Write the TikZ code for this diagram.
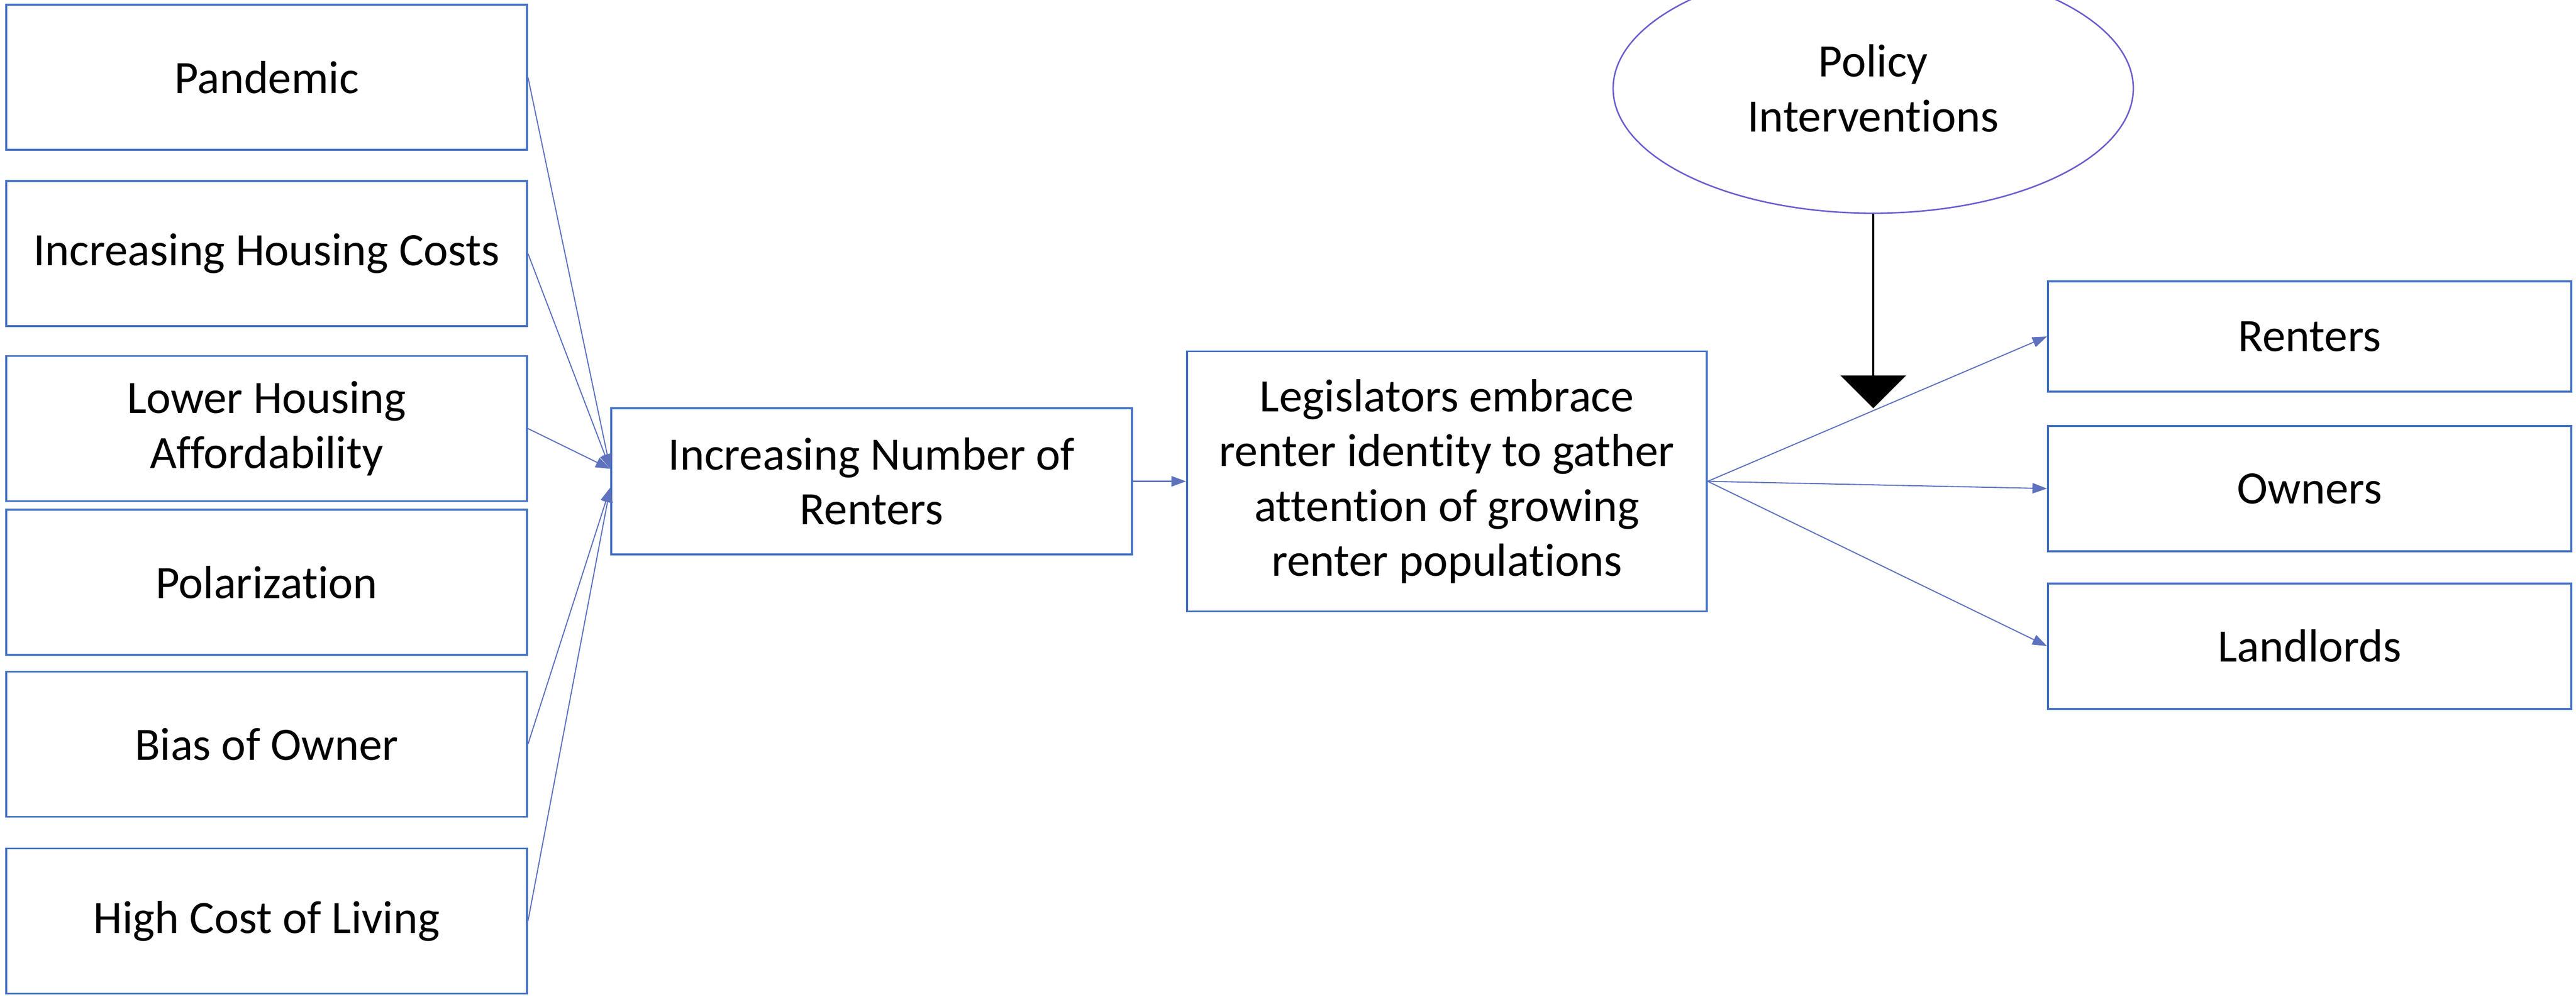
\documentclass[tikz,border=0pt]{standalone}
\usepackage{fontspec}
\setmainfont{Carlito}[Ligatures=NoCommon]
\usetikzlibrary{%
    arrows.meta,
    positioning,
    shapes.geometric
}
\definecolor{boxblue}{HTML}{4472C4}
\definecolor{linkblue}{HTML}{5E72BE}
\definecolor{ovalblue}{HTML}{6A5FCF}
\tikzset{factor/.style = {draw=boxblue, line width=1.1pt, align=center,
    minimum width=10.01cm, minimum height=2.79cm, inner sep=0pt,
    font=\fontsize{25.4}{30}\selectfont}}
\tikzset{linkarrow/.style = {-{Triangle[length=.28cm,width=.2cm]}, draw=linkblue, line width=.6pt}}
\tikzset{pusharrow/.style = {-{Triangle[length=.63cm,width=1.25cm]}, line width=1.4pt}}

\begin{document}
\begin{tikzpicture}
    \useasboundingbox (0,0) rectangle (49.52,-19.17);

    % causes on the left
    \foreach \n/\y/\Label in {%
        pandemic/-1.485/Pandemic,
        costs/-4.875/Increasing Housing Costs,
        afford/-8.24/Lower Housing\\Affordability,
        polar/-11.195/Polarization,
        bias/-14.31/Bias of Owner,
        living/-17.71/High Cost of Living%
        }
        \node[factor] (\n) at (5.125,\y) {\Label};

    \node[factor, minimum height=2.81cm] (rentgrowth) at (16.755,-9.255) {Increasing Number of\\Renters};
    \node[factor, minimum width=9.99cm, minimum height=5cm] (legis) [right=1.02cm of rentgrowth]
        {Legislators embrace\\renter identity to gather\\attention of growing\\renter populations};

    % groups on the right
    \node[factor, minimum width=10.06cm, minimum height=2.12cm] (renters) at (44.40,-6.47) {Renters};
    \node[factor, minimum width=10.06cm, minimum height=2.41cm] (owners) [below=.62cm of renters] {Owners};
    \node[factor, minimum width=10.06cm, minimum height=2.41cm] (landlords) [below=.58cm of owners] {Landlords};

    \node[ellipse, draw=ovalblue, line width=.8pt, minimum width=10cm, minimum height=4.8cm,
        align=center, font=\fontsize{25.4}{30}\selectfont] (policy) at (36.01,-1.70) {Policy\\Interventions};
    \coordinate (hit) at (36.01,-7.85);

    \foreach \x in {pandemic,costs,afford}
        \draw[linkarrow] (\x.east) to ([yshift=.24cm]rentgrowth.west);
    \foreach \x in {bias,living}
        \draw[linkarrow] (\x.east) to ([yshift=-.12cm]rentgrowth.west);
    \draw[linkarrow] (rentgrowth) to (legis);
    \foreach \x in {renters,owners,landlords}
        \draw[linkarrow] (legis.east) to (\x.west);
    \draw[pusharrow] (policy.south) to (hit);
\end{tikzpicture}
\end{document}
